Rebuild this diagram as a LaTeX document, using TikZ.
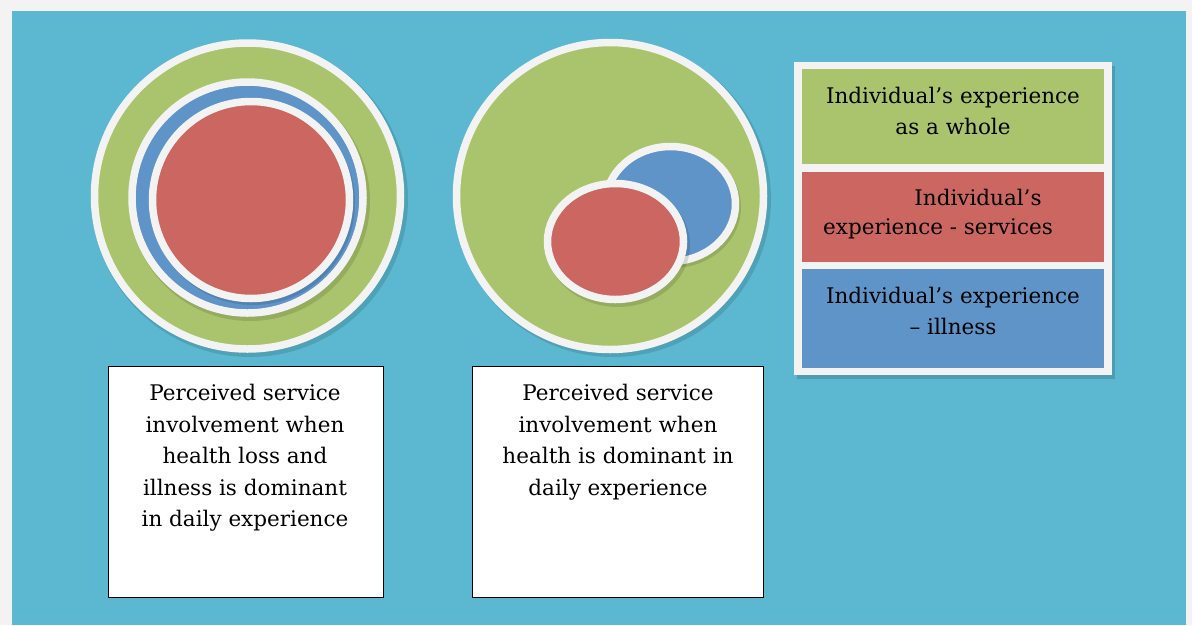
\documentclass[tikz,border=0pt]{standalone}
\usepackage{fontspec}
\setmainfont{DejaVu Serif}
\definecolor{teal}{HTML}{5BB8D0}
\definecolor{gframe}{HTML}{F3F3F3}
\definecolor{cgreen}{HTML}{AAC46D}
\definecolor{cred}{HTML}{CC6661}
\definecolor{cblue}{HTML}{5E94C8}
\begin{document}
\begin{tikzpicture}[x=1pt,y=-1pt,
  ring/.style={draw=gframe,line width=7.5pt},
  shade/.style={fill=black,opacity=0.12},
  lbl/.style={font=\fontsize{21.5}{31.5}\selectfont,align=center,text=black,inner sep=0pt},
  tbox/.style={draw=black,line width=1.4pt,fill=white}]
\useasboundingbox (0,0) rectangle (1192,625);
\fill[gframe] (0,0) rectangle (1192,625);
\fill[teal] (12,11) rectangle (1186,625);
% circle 1
\fill[shade] (250,199) circle (158);
\path[ring,fill=cgreen] (247.5,196) circle (153);
\fill[shade] (250,201) circle (120);
\path[ring,fill=cblue] (247.5,197.5) circle (115.5);
\fill[shade] (253,203) circle (102);
\path[ring,fill=cred] (251,200) circle (98.5);
% circle 2
\fill[shade] (613,199) circle (158);
\path[ring,fill=cgreen] (610,196) circle (153.5);
\fill[shade] (673,207) ellipse (68 and 61);
\path[ring,fill=cblue] (670.5,204) ellipse (65 and 57.5);
\fill[shade] (618,245) ellipse (72 and 62);
\path[ring,fill=cred] (615.5,241.5) ellipse (68 and 58);
% legend
\fill[black,opacity=0.15] (797,66) rectangle (1115,379);
\fill[gframe] (794,62) rectangle (1112,375);
\node[fill=cgreen,minimum width=302pt,minimum height=95pt,anchor=north west,inner sep=0pt] (lg) at (802,69) {};
\node[fill=cred,minimum width=302pt,minimum height=90pt,anchor=north west,inner sep=0pt] (lr) at (802,172) {};
\node[fill=cblue,minimum width=302pt,minimum height=99pt,anchor=north west,inner sep=0pt] (lb) at (802,269) {};
\node[lbl] (tg) at (953,111) {Individual’s experience\\as a whole};
\node[lbl] (tr1) at (978,197) {Individual’s};
\node[lbl] (tr2) at (938,229) {experience - services};
\node[lbl] (tb) at (953,311) {Individual’s experience\\– illness};
% text boxes
\node[tbox,minimum width=275pt,minimum height=231pt,anchor=north west,inner sep=0pt] (b1) at (108,366) {};
\node[tbox,minimum width=291pt,minimum height=231pt,anchor=north west,inner sep=0pt] (b2) at (472,366) {};
\node[lbl,anchor=north] (t1) at (245,384) {Perceived service\\involvement when\\health loss and\\illness is dominant\\in daily experience};
\node[lbl,anchor=north] (t2) at (618,384) {Perceived service\\involvement when\\health is dominant in\\daily experience};
\end{tikzpicture}
\end{document}
